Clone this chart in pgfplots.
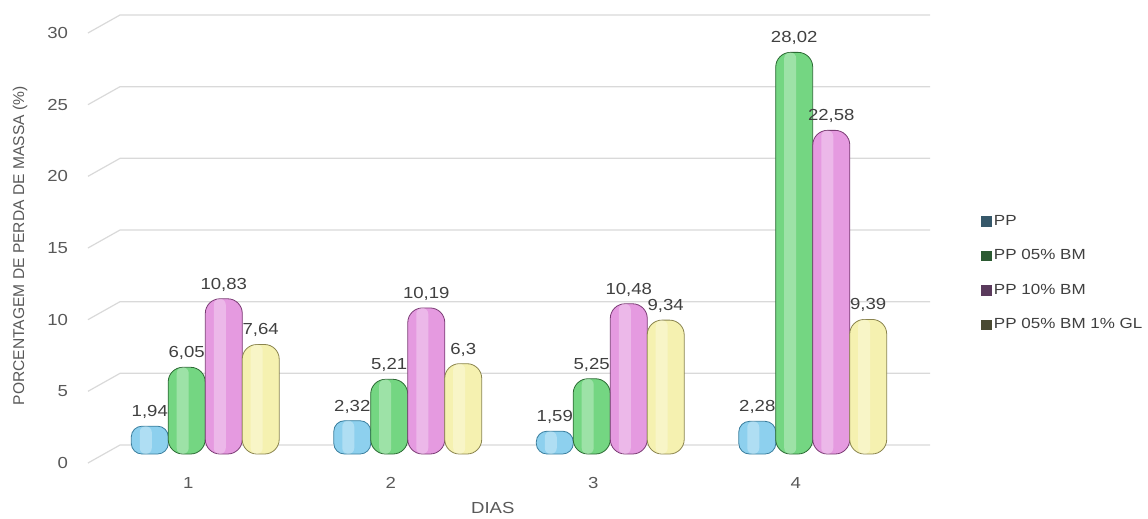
\documentclass[border=0pt]{standalone}
\usepackage{fontspec}
\setmainfont[FakeStretch=1.16]{Liberation Sans}
\newfontfamily\ylfont{Liberation Sans}
\usepackage{pgfplots}
\pgfplotsset{compat=1.18}
\definecolor{cB}{HTML}{8DD0EE}
\definecolor{cG}{HTML}{74D682}
\definecolor{cP}{HTML}{E59AE0}
\definecolor{cY}{HTML}{F5F1B0}
\definecolor{eB}{HTML}{3A7E9E}
\definecolor{eG}{HTML}{2C6A34}
\definecolor{eP}{HTML}{7A3C74}
\definecolor{eY}{HTML}{8A844E}
\definecolor{lB}{HTML}{36586A}
\definecolor{lG}{HTML}{2B5A31}
\definecolor{lP}{HTML}{5A3A5C}
\definecolor{lY}{HTML}{4A4A32}
\definecolor{txt}{HTML}{595959}
\definecolor{grd}{HTML}{D9D9D9}
\begin{document}
\begin{tikzpicture}
\path[use as bounding box] (-78pt,-48pt) rectangle (783pt,340.5pt);
\begin{axis}[
  at={(0,0)}, anchor=south west,
  scale only axis, width=607.5pt, height=322.5pt,
  xmin=0.5, xmax=4.5, ymin=0, ymax=30,
  clip=false,
  axis line style={draw=none},
  major tick length=0pt,
  xtick={1,2,3,4}, ytick={0,5,...,30},
  /pgf/number format/assume math mode=true,
  /pgf/number format/use comma,
  /pgf/number format/1000 sep={},
  tick label style={font=\fontsize{12}{14}\selectfont, text=txt},
  yticklabel style={xshift=-23.5pt, yshift=-6.75pt},
  xticklabel style={xshift=-12.75pt, yshift=-14.3pt},
  xlabel={DIAS},
  ylabel={\ylfont PORCENTAGEM DE PERDA DE MASSA (\%)},
  xlabel style={at={(axis description cs:0.48,-0.1256)}, anchor=center, font=\fontsize{12}{14}\selectfont, text=txt},
  ylabel style={at={(axis description cs:-0.1037,0.484)}, anchor=center, rotate=0, font=\fontsize{11.7}{14}\selectfont, text=txt},
  every node near coord/.append style={font=\fontsize{12}{14}\selectfont, text=black!75, yshift=2pt},
  legend style={at={(1.078,0.568)}, anchor=north west, draw=none, fill=none,
    font=\fontsize{11}{13}\selectfont, text=black!75, row sep=12.7pt},
  legend cell align=left,
  legend image code/.code={\fill[#1] (0pt,-3.5pt) rectangle (7pt,3.5pt);},
  bar width=27.75pt,
]
% grid lines (3D floor style)
\addplot[forget plot, no marks, draw=grd, line width=0.9pt] coordinates {(0.4208,-0.628) (0.5792,0.628) (4.5792,0.628)};
\addplot[forget plot, no marks, draw=grd, line width=0.9pt] coordinates {(0.4208,4.372) (0.5792,5.628) (4.5792,5.628)};
\addplot[forget plot, no marks, draw=grd, line width=0.9pt] coordinates {(0.4208,9.372) (0.5792,10.628) (4.5792,10.628)};
\addplot[forget plot, no marks, draw=grd, line width=0.9pt] coordinates {(0.4208,14.372) (0.5792,15.628) (4.5792,15.628)};
\addplot[forget plot, no marks, draw=grd, line width=0.9pt] coordinates {(0.4208,19.372) (0.5792,20.628) (4.5792,20.628)};
\addplot[forget plot, no marks, draw=grd, line width=0.9pt] coordinates {(0.4208,24.372) (0.5792,25.628) (4.5792,25.628)};
\addplot[forget plot, no marks, draw=grd, line width=0.9pt] coordinates {(0.4208,29.372) (0.5792,30.628) (4.5792,30.628)};
% bars
\addplot[forget plot, ybar, bar shift=-41.6pt, rounded corners=8pt,
  draw=eB, line width=0.6pt, fill=cB, nodes near coords,
  every node near coord/.append style={xshift=-41.6pt}]
  coordinates {(1,1.94) (2,2.32) (3,1.59) (4,2.28)};
\addplot[forget plot, ybar, bar shift=-13.9pt, rounded corners=11pt,
  draw=eG, line width=0.6pt, fill=cG, nodes near coords,
  every node near coord/.append style={xshift=-13.9pt}]
  coordinates {(1,6.05) (2,5.21) (3,5.25) (4,28.02)};
\addplot[forget plot, ybar, bar shift=13.9pt, rounded corners=11pt,
  draw=eP, line width=0.6pt, fill=cP, nodes near coords,
  every node near coord/.append style={xshift=13.9pt}]
  coordinates {(1,10.83) (2,10.19) (3,10.48) (4,22.58)};
\addplot[forget plot, ybar, bar shift=41.6pt, rounded corners=11pt,
  draw=eY, line width=0.6pt, fill=cY, nodes near coords,
  every node near coord/.append style={xshift=41.6pt}]
  coordinates {(1,7.64) (2,6.3) (3,9.34) (4,9.39)};
% cylinder highlights
\addplot[forget plot, ybar, bar width=9pt, bar shift=-44.6pt, rounded corners=4.5pt, draw=none, fill=white, fill opacity=0.3]
  coordinates {(1,1.94) (2,2.32) (3,1.59) (4,2.28)};
\addplot[forget plot, ybar, bar width=9pt, bar shift=-16.9pt, rounded corners=4.5pt, draw=none, fill=white, fill opacity=0.3]
  coordinates {(1,6.05) (2,5.21) (3,5.25) (4,28.02)};
\addplot[forget plot, ybar, bar width=9pt, bar shift=10.9pt, rounded corners=4.5pt, draw=none, fill=white, fill opacity=0.3]
  coordinates {(1,10.83) (2,10.19) (3,10.48) (4,22.58)};
\addplot[forget plot, ybar, bar width=9pt, bar shift=38.6pt, rounded corners=4.5pt, draw=none, fill=white, fill opacity=0.3]
  coordinates {(1,7.64) (2,6.3) (3,9.34) (4,9.39)};
\addlegendimage{lB}
\addlegendimage{lG}
\addlegendimage{lP}
\addlegendimage{lY}
\legend{PP, PP 05\% BM, PP 10\% BM, PP 05\% BM 1\% GL}
\end{axis}
\end{tikzpicture}
\end{document}
